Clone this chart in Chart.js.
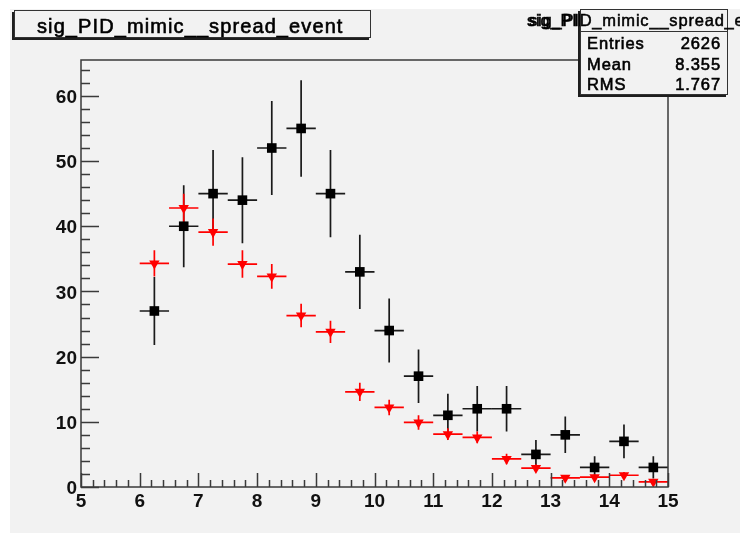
<!DOCTYPE html>
<html>
<head>
<meta charset="utf-8">
<title>sig_PID_mimic__spread_event</title>
<script src="https://cdn.jsdelivr.net/npm/chart.js@4/dist/chart.umd.min.js"></script>
<style>
    html, body { margin: 0; padding: 0; background: #ffffff; }
    canvas { display: block; }
</style>
</head>
<body>
<canvas id="chartSpreadEvent" width="740" height="533"></canvas>
<script>
// bin centres (bin width 0.5)
const binCenters = [6.25, 6.75, 7.25, 7.75, 8.25, 8.75, 9.25, 9.75, 10.25, 10.75, 11.25, 11.75, 12.25, 12.75, 13.25, 13.75, 14.25, 14.75];
const binHalfWidth = 0.25;

// black squares
const blackCounts = [27, 40, 45, 44, 52, 55, 45, 33, 24, 17, 11, 12, 12, 5, 8, 3, 7, 3];
const blackErrors = [5.2, 6.3, 6.7, 6.6, 7.2, 7.4, 6.7, 5.7, 4.9, 4.1, 3.3, 3.5, 3.5, 2.2, 2.8, 1.7, 2.6, 1.7];

// red triangles
const redCounts = [34.3, 42.8, 39.1, 34.2, 32.3, 26.3, 23.8, 14.6, 12.2, 9.9, 8.1, 7.6, 4.3, 2.9, 1.4, 1.5, 1.8, 0.8];
const redErrors = [2.0, 2.2, 2.1, 2.1, 1.9, 1.8, 1.7, 1.4, 1.2, 1.1, 0.9, 0.9, 0.8, 0.6, 0.4, 0.4, 0.5, 0.3];

const yTickLabels = [0, 10, 20, 30, 40, 50, 60];
const xTickLabels = [5, 6, 7, 8, 9, 10, 11, 12, 13, 14, 15];

const titleText = 'sig_PID_mimic__spread_event';
const statsNames = ['Entries', 'Mean', 'RMS'];
const statsValues = ['2626', '8.355', '1.767'];

function toPoints(values) {
    return binCenters.map((x, i) => ({ x: x, y: values[i] }));
}

// text with a thin outline, ROOT prints look a bit heavier
function heavyText(ctx, text, x, y, stroke) {
    ctx.lineWidth = stroke;
    ctx.strokeStyle = ctx.fillStyle;
    ctx.strokeText(text, x, y);
    ctx.fillText(text, x, y);
}

// draws the ROOT style frame, ticks, error bars and the two text boxes
const rootStyle = {
    id: 'rootStyle',
    beforeDraw(chart) {
        const ctx = chart.ctx;
        ctx.save();
        ctx.fillStyle = '#ffffff';
        ctx.fillRect(0, 0, chart.width, chart.height);
        ctx.fillStyle = '#f2f2f2';
        ctx.fillRect(10, 9, chart.width - 10, chart.height - 9);
        ctx.restore();
    },
    beforeDatasetsDraw(chart) {
        const ctx = chart.ctx;
        const xs = chart.scales.x;
        const ys = chart.scales.y;

        function errorBars(values, errors, color) {
            ctx.strokeStyle = color;
            ctx.lineWidth = 1.7;
            for (let i = 0; i < binCenters.length; i++) {
                const x = xs.getPixelForValue(binCenters[i]);
                const y = ys.getPixelForValue(values[i]);
                ctx.beginPath();
                ctx.moveTo(xs.getPixelForValue(binCenters[i] - binHalfWidth), y);
                ctx.lineTo(xs.getPixelForValue(binCenters[i] + binHalfWidth), y);
                ctx.moveTo(x, ys.getPixelForValue(values[i] + errors[i]));
                ctx.lineTo(x, ys.getPixelForValue(Math.max(0, values[i] - errors[i])));
                ctx.stroke();
            }
        }

        ctx.save();
        errorBars(blackCounts, blackErrors, '#1a1a1a');
        errorBars(redCounts, redErrors, '#ff0000');
        ctx.restore();
    },
    afterDraw(chart) {
        const ctx = chart.ctx;
        const area = chart.chartArea;
        const xs = chart.scales.x;
        const ys = chart.scales.y;

        ctx.save();

        // frame
        ctx.strokeStyle = '#3a3a3a';
        ctx.lineWidth = 1.5;
        ctx.strokeRect(area.left, area.top, area.right - area.left, area.bottom - area.top);

        // y ticks (inside the frame)
        ctx.beginPath();
        for (let v = 0; v <= ys.max; v += 2) {
            const y = Math.round(ys.getPixelForValue(v)) + 0.5;
            const len = v % 10 === 0 ? 18 : 9;
            ctx.moveTo(area.left, y);
            ctx.lineTo(area.left + len, y);
        }
        // x ticks
        for (let k = 0; k <= 50; k++) {
            const x = Math.round(xs.getPixelForValue(5 + k * 0.2)) + 0.5;
            const len = k % 5 === 0 ? 14 : 7;
            ctx.moveTo(x, area.bottom);
            ctx.lineTo(x, area.bottom - len);
        }
        ctx.stroke();

        // tick labels
        ctx.fillStyle = '#111111';
        ctx.font = 'bold 19px "Liberation Sans", Arial, sans-serif';
        ctx.textAlign = 'right';
        ctx.textBaseline = 'middle';
        yTickLabels.forEach(v => {
            ctx.fillText(String(v), area.left - 4, ys.getPixelForValue(v) + 2);
        });
        ctx.textAlign = 'center';
        ctx.textBaseline = 'top';
        xTickLabels.forEach(v => {
            ctx.fillText(String(v), xs.getPixelForValue(v), area.bottom + 5);
        });

        // title box
        ctx.fillStyle = '#1e1e1e';
        ctx.fillRect(12, 12, 357, 28);
        ctx.fillStyle = '#f2f2f2';
        ctx.fillRect(14, 10, 357, 28);
        ctx.strokeStyle = '#333333';
        ctx.lineWidth = 1;
        ctx.strokeRect(14.5, 10.5, 356, 27);
        ctx.fillStyle = '#000000';
        ctx.textAlign = 'left';
        ctx.textBaseline = 'alphabetic';
        ctx.font = '20px "Liberation Sans", Arial, sans-serif';
        ctx.letterSpacing = '1.1px';
        heavyText(ctx, titleText, 37, 33, 0.6);

        // stats box
        ctx.fillStyle = '#1e1e1e';
        ctx.fillRect(578, 11, 148, 86);
        ctx.fillStyle = '#f2f2f2';
        ctx.fillRect(580, 9, 148, 86);
        ctx.strokeStyle = '#333333';
        ctx.lineWidth = 1;
        ctx.strokeRect(580.5, 9.5, 147, 85);
        ctx.beginPath();
        ctx.moveTo(580, 31.5);
        ctx.lineTo(728, 31.5);
        ctx.stroke();

        ctx.fillStyle = '#000000';
        ctx.font = '16.5px "Liberation Sans", Arial, sans-serif';
        ctx.letterSpacing = '0.8px';
        heavyText(ctx, titleText, 529, 26, 0.5);
        // overlapping copy left of the box
        ctx.save();
        ctx.beginPath();
        ctx.rect(500, 0, 80, 40);
        ctx.clip();
        heavyText(ctx, titleText, 527, 26, 0.5);
        ctx.restore();

        ctx.font = '16.5px "Liberation Sans", Arial, sans-serif';
        ctx.letterSpacing = '0.9px';
        const rowBase = [49, 70, 90];
        statsNames.forEach((name, i) => {
            ctx.textAlign = 'left';
            heavyText(ctx, name, 587, rowBase[i], 0.6);
            ctx.textAlign = 'right';
            heavyText(ctx, statsValues[i], 721, rowBase[i], 0.6);
        });

        ctx.restore();
    }
};

new Chart(document.getElementById('chartSpreadEvent'), {
    type: 'scatter',
    data: {
        datasets: [
            {
                label: 'red',
                data: toPoints(redCounts),
                pointStyle: 'triangle',
                pointRotation: 180,
                pointRadius: 6,
                pointBackgroundColor: '#ff0000',
                pointBorderColor: '#ff0000',
                pointBorderWidth: 0
            },
            {
                label: 'black',
                data: toPoints(blackCounts),
                pointStyle: 'rect',
                pointRadius: 6.8,
                pointBackgroundColor: '#000000',
                pointBorderColor: '#000000',
                pointBorderWidth: 0
            }
        ]
    },
    options: {
        responsive: false,
        animation: false,
        devicePixelRatio: 1,
        layout: { padding: { left: 81, right: 72, top: 60, bottom: 46 } },
        scales: {
            x: { type: 'linear', min: 5, max: 15, display: false },
            y: { type: 'linear', min: 0, max: 65.5, display: false }
        },
        plugins: {
            legend: { display: false },
            tooltip: { enabled: false }
        }
    },
    plugins: [rootStyle]
});
</script>
</body>
</html>
